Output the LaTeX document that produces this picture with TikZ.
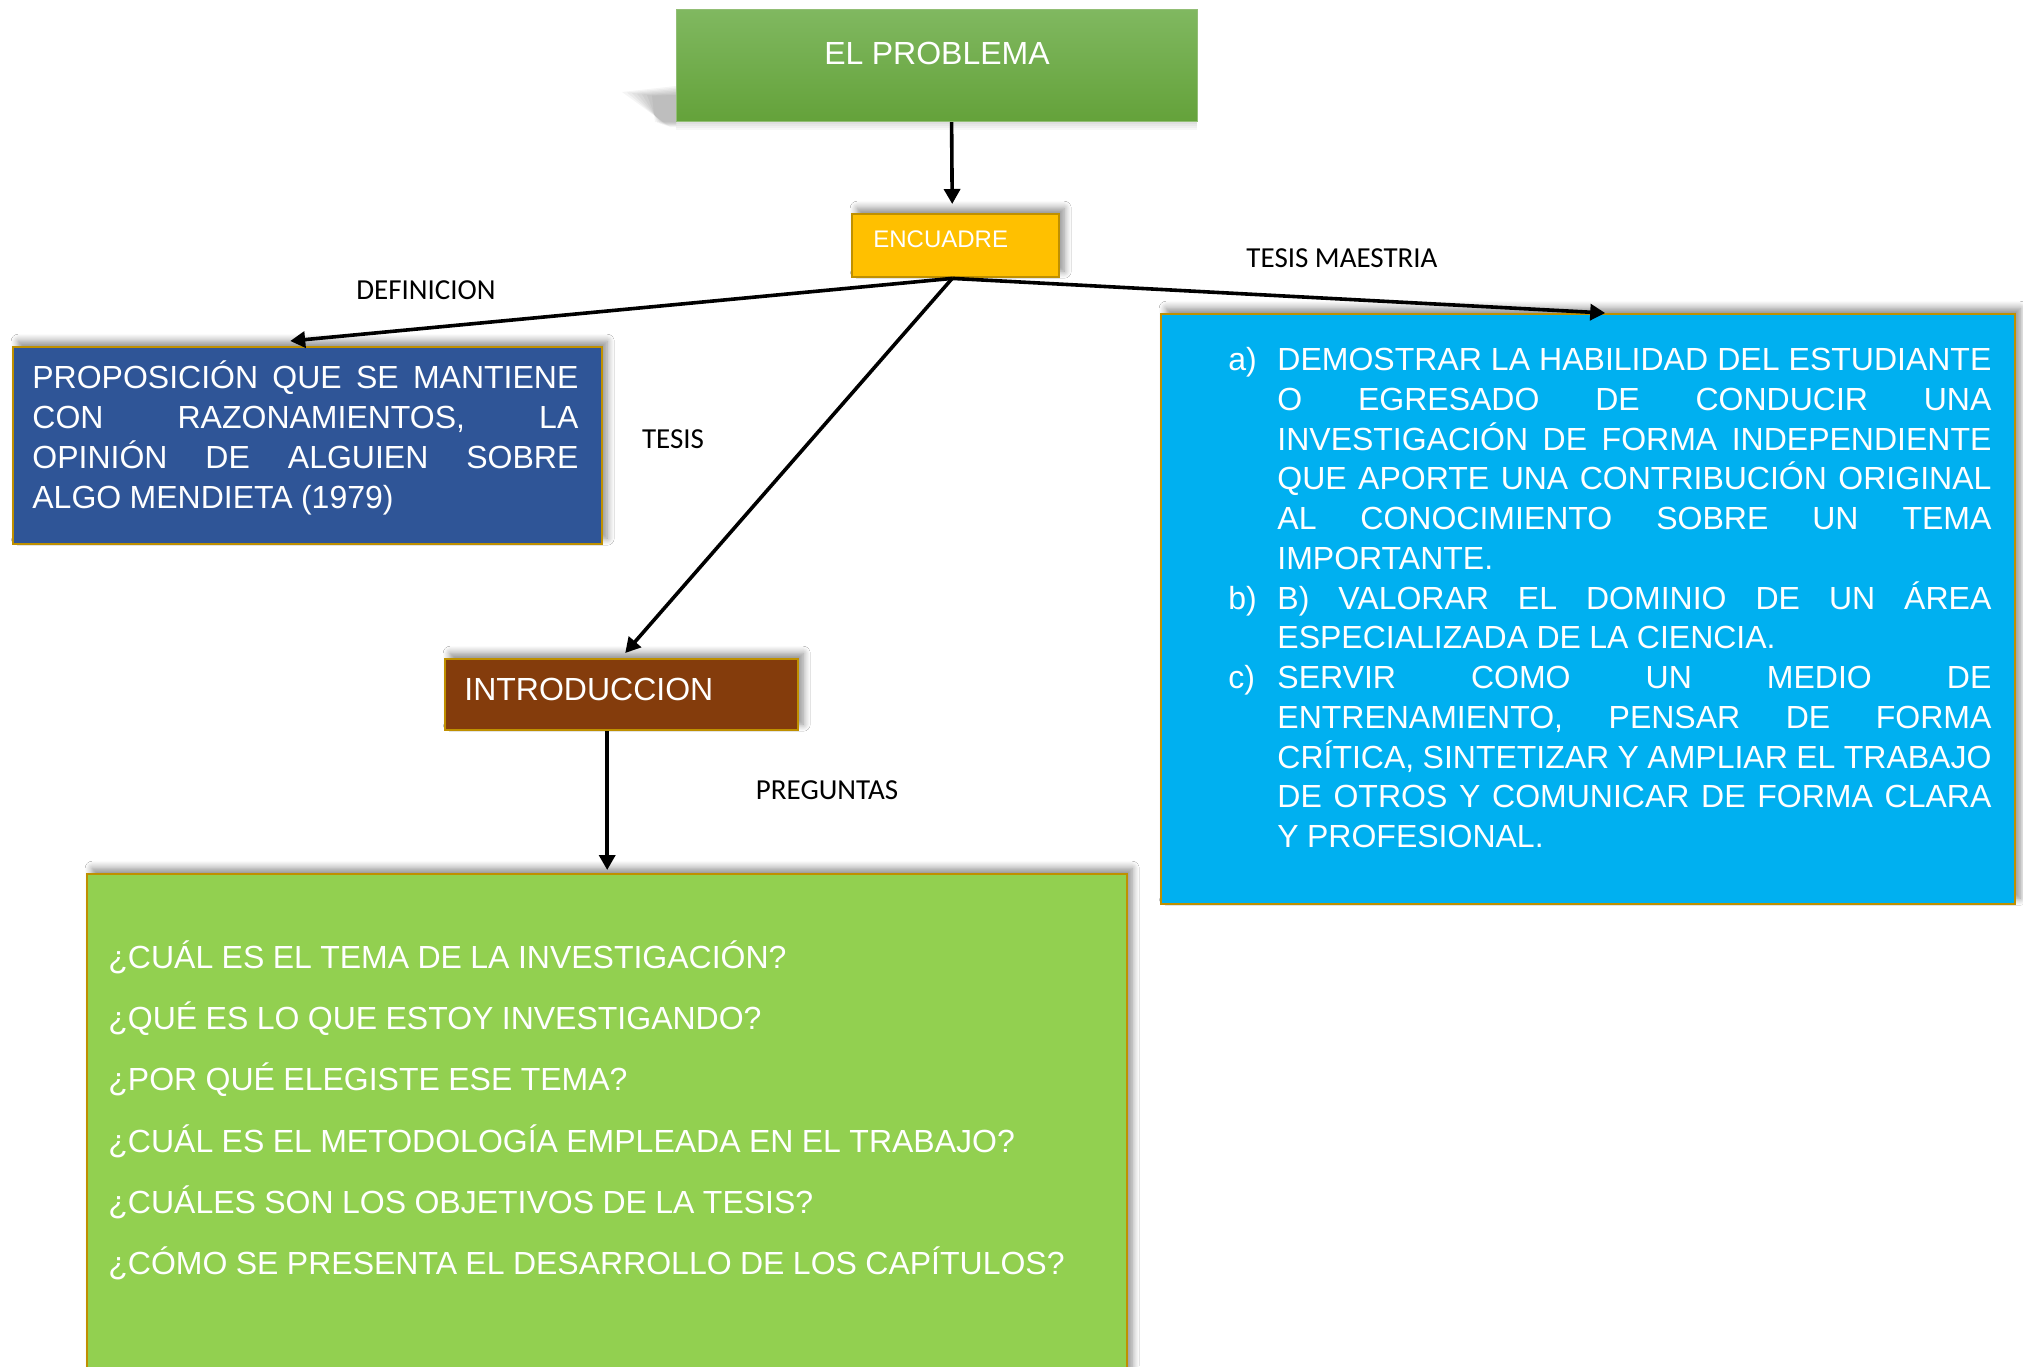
\documentclass[tikz,border=0pt]{standalone}
\usepackage{fontspec}
\setmainfont{Liberation Sans}
\newfontfamily\calib{Carlito}
\usetikzlibrary{arrows.meta,shadows.blur,calc}
\definecolor{probtop}{HTML}{80B860}
\definecolor{probbot}{HTML}{64A23A}
\definecolor{gold}{HTML}{BF9000}
\definecolor{encfill}{HTML}{FFC000}
\definecolor{bluefill}{HTML}{2F5597}
\definecolor{brownfill}{HTML}{843C0C}
\definecolor{greenfill}{HTML}{92D050}
\definecolor{cyanfill}{HTML}{00B0F0}
\newcommand\nsp{\spaceskip=4.2pt plus 1.5pt minus 1pt\relax}
\newcommand\jst[2]{\leavevmode\hbox to #1{\spaceskip=4.2pt plus 1fil minus 1.2pt\relax #2}}
\newcommand\cyl[2]{\leavevmode\makebox[24.5pt][l]{#1}\jst{357pt}{#2}}
\newcommand\cyn[2]{\leavevmode\makebox[24.5pt][l]{#1}#2}
\begin{document}
\begin{tikzpicture}[x=0.5pt,y=-0.5pt,
  box/.style={draw=gold, line width=1.2pt, inner sep=0pt, anchor=north west,
    blur shadow={shadow xshift=2.5pt, shadow yshift=3pt, shadow blur steps=8, shadow blur radius=3.5pt, shadow opacity=45}},
  wtext/.style={text=white, inner sep=0pt},
  lbl/.style={font=\calib\fontsize{14.5}{17}\selectfont, inner sep=0pt, anchor=base},
  conn/.style={line width=1.8pt, -{Triangle[length=7.5pt,width=8pt]}},
]
\useasboundingbox[fill=white] (0,0) rectangle (2023,1366);

% soft perspective shadow of EL PROBLEMA
\foreach \k in {0,...,6}{
  \fill[black, opacity=0.04] (622+5*\k,92+0.6*\k) -- (676,86+1.5*\k) -- (676,127-0.8*\k) -- (670-2.5*\k,127-0.8*\k) -- cycle;
}
\foreach \k in {0,...,3}{
  \fill[black, opacity=0.03] (676,121) rectangle (1197,130-2*\k);
}

\node[draw=probbot!70!white, line width=0.6pt, top color=probtop, bottom color=probbot,
  inner sep=0pt, anchor=north west, minimum width=260.5pt, minimum height=56pt] (prob) at (676,9) {};
\node[box, fill=encfill, minimum width=103.5pt, minimum height=31.5pt] (enc) at (851,213) {};
\node[box, fill=bluefill, minimum width=294.5pt, minimum height=98.5pt] (def) at (12,346) {};
\node[box, fill=brownfill, minimum width=176.5pt, minimum height=35.5pt] (intro) at (444,658) {};
\node[box, fill=greenfill, minimum width=520pt, minimum height=253.5pt] (preg) at (86,873) {};
\node[box, fill=cyanfill, minimum width=427pt, minimum height=295pt] (tm) at (1160,313) {};

\node[wtext, anchor=base, font=\fontsize{16}{19}\selectfont] (probt) at (937,64.5) {\nsp EL PROBLEMA};
\node[wtext, anchor=base west, font=\fontsize{12}{14}\selectfont] (enct) at (873,247.6) {ENCUADRE};
\node[wtext, anchor=base west, font=\fontsize{16}{19}\selectfont] (introt) at (464,700.5) {INTRODUCCION};

\node[wtext, anchor=base west, text width=273pt, align=left, font=\fontsize{16}{20}\selectfont] (deft) at (32,388.5)
{\nsp\jst{273pt}{PROPOSICIÓN QUE SE MANTIENE}\\
\jst{273pt}{CON RAZONAMIENTOS, LA}\\
\jst{273pt}{OPINIÓN DE ALGUIEN SOBRE}\\
ALGO MENDIETA (1979)};

\node[wtext, anchor=base west, text width=381.5pt, align=left, font=\fontsize{16}{19.875}\selectfont] (tmt) at (1228,370.5)
{\nsp\cyl{a)}{DEMOSTRAR LA HABILIDAD DEL ESTUDIANTE}\\
\cyl{}{O EGRESADO DE CONDUCIR UNA}\\
\cyl{}{INVESTIGACIÓN DE FORMA INDEPENDIENTE}\\
\cyl{}{QUE APORTE UNA CONTRIBUCIÓN ORIGINAL}\\
\cyl{}{AL CONOCIMIENTO SOBRE UN TEMA}\\
\cyn{}{IMPORTANTE.}\\
\cyl{b)}{B) VALORAR EL DOMINIO DE UN ÁREA}\\
\cyn{}{ESPECIALIZADA DE LA CIENCIA.}\\
\cyl{c)}{SERVIR COMO UN MEDIO DE}\\
\cyl{}{ENTRENAMIENTO, PENSAR DE FORMA}\\
\cyl{}{CRÍTICA, SINTETIZAR Y AMPLIAR EL TRABAJO}\\
\cyl{}{DE OTROS Y COMUNICAR DE FORMA CLARA}\\
\cyn{}{Y PROFESIONAL.}};

\node[wtext, anchor=base west, text width=505pt, align=left, font=\fontsize{16}{30.6}\selectfont] (pregt) at (108,968.5)
{\nsp ¿CUÁL ES EL TEMA DE LA INVESTIGACIÓN?\\
¿QUÉ ES LO QUE ESTOY INVESTIGANDO?\\
¿POR QUÉ ELEGISTE ESE TEMA?\\
¿CUÁL ES EL METODOLOGÍA EMPLEADA EN EL TRABAJO?\\
¿CUÁLES SON LOS OBJETIVOS DE LA TESIS?\\
¿CÓMO SE PRESENTA EL DESARROLLO DE LOS CAPÍTULOS?};

\node[lbl] (l1) at (426,299.3) {DEFINICION};
\node[lbl] (l2) at (673,448.3) {TESIS};
\node[lbl] (l3) at (1342,267.3) {TESIS MAESTRIA};
\node[lbl] (l4) at (827,799.3) {PREGUNTAS};

\coordinate (apex) at ($(enc.south)+(-3.5,0)$);
\draw[conn] ($(prob.south)+(14.5,0)$) -- ($(enc.north)+(-3.5,-9)$);
\draw[conn] (apex) -- ($(def.north)+(-17.5,-5)$);
\draw[conn] (apex) -- ($(tm.north)+(17,0)$);
\draw[conn] (apex) -- ($(intro.north)+(3.5,-5)$);
\draw[conn] ($(intro.south)+(-14.5,0)$) -- ($(preg.north)+(0,-3)$);
\end{tikzpicture}
\end{document}
